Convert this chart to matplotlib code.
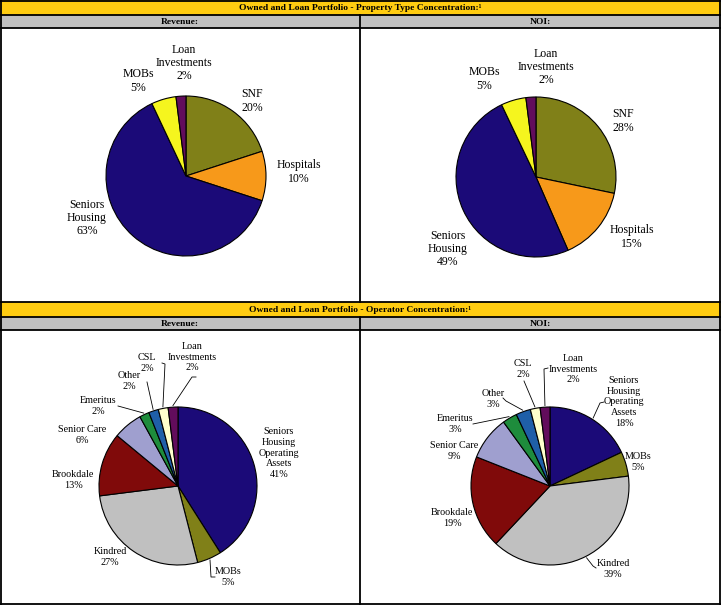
import numpy as np
import matplotlib
matplotlib.use("Agg")
import matplotlib.pyplot as plt
from matplotlib.patches import Rectangle

# ---------------- data ----------------
pt_labels = ["SNF", "Hospitals", "Seniors\nHousing", "MOBs", "Loan\nInvestments"]
pt_revenue = [20, 10, 63, 5, 2]
pt_noi = [28, 15, 49, 5, 2]
pt_colors = ["#808018", "#F7991A", "#1B0A78", "#F5F51E", "#620C5C"]

op_labels = ["Seniors\nHousing\nOperating\nAssets", "MOBs", "Kindred", "Brookdale",
             "Senior Care", "Emeritus", "Other", "CSL", "Loan\nInvestments"]
op_revenue = [41, 5, 27, 13, 6, 2, 2, 2, 2]
op_noi = [18, 5, 39, 19, 9, 3, 3, 2, 2]
op_colors = ["#1B0A78", "#808018", "#C0C0C0", "#800A0A", "#9F9FCF",
             "#1E8C3C", "#1F5FA8", "#FFFFCC", "#620C5C"]

title_top = "Owned and Loan Portfolio - Property Type Concentration:\u00b9"
title_bot = "Owned and Loan Portfolio - Operator Concentration:\u00b9"
sub_left = "Revenue:"
sub_right = "NOI:"

W, H = 721, 605
fig = plt.figure(figsize=(W / 100, H / 100), dpi=100)
ax = fig.add_axes([0, 0, 1, 1])

def Y(y):
    return H - y

SERIF = "Liberation Serif"
YELLOW = "#FFCC11"
GRAY = "#C0C0C0"

# ---------------- frame / header bars ----------------
def bar(y0, y1, color):
    ax.add_patch(Rectangle((0, Y(y1)), W, y1 - y0, facecolor=color, edgecolor="none", zorder=0))

bar(0, 14.5, YELLOW)
bar(14.5, 28, GRAY)
bar(302, 316.5, YELLOW)
bar(316.5, 330, GRAY)

lw = 1.3
for yy in [0.8, 14.5, 28, 301.5, 316.5, 330, 604.2]:
    ax.plot([0, W], [Y(yy), Y(yy)], color="black", lw=lw, zorder=5, solid_capstyle="butt")
for xx in [0.8, 720.2]:
    ax.plot([xx, xx], [Y(0), Y(H)], color="black", lw=lw, zorder=5)
ax.plot([360, 360], [Y(14.5), Y(301.5)], color="black", lw=lw, zorder=5)
ax.plot([360, 360], [Y(316.5), Y(604.2)], color="black", lw=lw, zorder=5)

hdr = dict(family=SERIF, fontweight="bold", fontsize=6.8, ha="center", va="center", zorder=6)
ax.text(360.5, Y(8), title_top, **hdr)
ax.text(180, Y(21.5), sub_left, **hdr)
ax.text(540, Y(21.5), sub_right, **hdr)
ax.text(360.5, Y(310), title_bot, **hdr)
ax.text(180, Y(323.5), sub_left, **hdr)
ax.text(540, Y(323.5), sub_right, **hdr)

# ---------------- pies ----------------
def draw_pie(values, labels, colors, center, r, label_pos, fs, ls, leaders):
    cx, cy = center
    wedges, _ = ax.pie(values, colors=colors, startangle=90, counterclock=False,
                       center=(cx, Y(cy)), radius=r,
                       wedgeprops=dict(edgecolor="black", linewidth=0.8))
    for i, (w, lab, v) in enumerate(zip(wedges, labels, values)):
        lx, ly = label_pos[i]
        ax.text(lx, Y(ly), f"{lab}\n{v}%", family=SERIF, fontsize=fs,
                ha="center", va="center", linespacing=ls, zorder=6)
        if i in leaders:
            mid = np.deg2rad((w.theta1 + w.theta2) / 2)
            ex = cx + r * 1.02 * np.cos(mid)
            ey = Y(cy) + r * 1.02 * np.sin(mid)
            pts = leaders[i]
            xs = [p[0] for p in pts] + [ex]
            ys = [Y(p[1]) for p in pts] + [ey]
            ax.plot(xs, ys, color="black", lw=0.6, zorder=6)

# top-left: revenue by property type
draw_pie(pt_revenue, pt_labels, pt_colors, (186, 176), 80,
         [(252, 101), (299, 172), (87, 218), (138, 81), (184, 63)], 8.5, 1.15, {})
# top-right: NOI by property type
draw_pie(pt_noi, pt_labels, pt_colors, (536, 177), 80,
         [(623, 121), (632, 237), (448, 249), (484, 79), (546, 67)], 8.5, 1.15, {})

# bottom-left: revenue by operator
draw_pie(op_revenue, op_labels, op_colors, (178, 486), 79,
         [(279, 453), (228, 577), (110, 557), (73, 480), (82, 435),
          (98, 406), (129, 381), (147, 363), (192, 357)], 7.3, 1.22,
         {1: [(215, 577), (211, 577)],
          5: [(118, 406)],
          6: [(147, 382)],
          7: [(162, 363), (165, 364)],
          8: [(196, 377), (192, 377)]})
# bottom-right: NOI by operator
draw_pie(op_noi, op_labels, op_colors, (550, 486), 79,
         [(624, 402), (638, 462), (613, 569), (452, 518), (454, 451),
          (455, 424), (493, 399), (523, 369), (573, 369)], 7.3, 1.22,
         {0: [(604, 402), (600, 403)],
          2: [(596, 568), (593, 566)],
          5: [(473, 424)],
          6: [(503, 398), (506, 401)],
          7: [(524, 381)],
          8: [(548, 368), (544, 369)]})

ax.set_xlim(0, W)
ax.set_ylim(0, H)
ax.set_aspect("auto")
ax.axis("off")

fig.savefig("out.png", dpi=100, facecolor="white")
